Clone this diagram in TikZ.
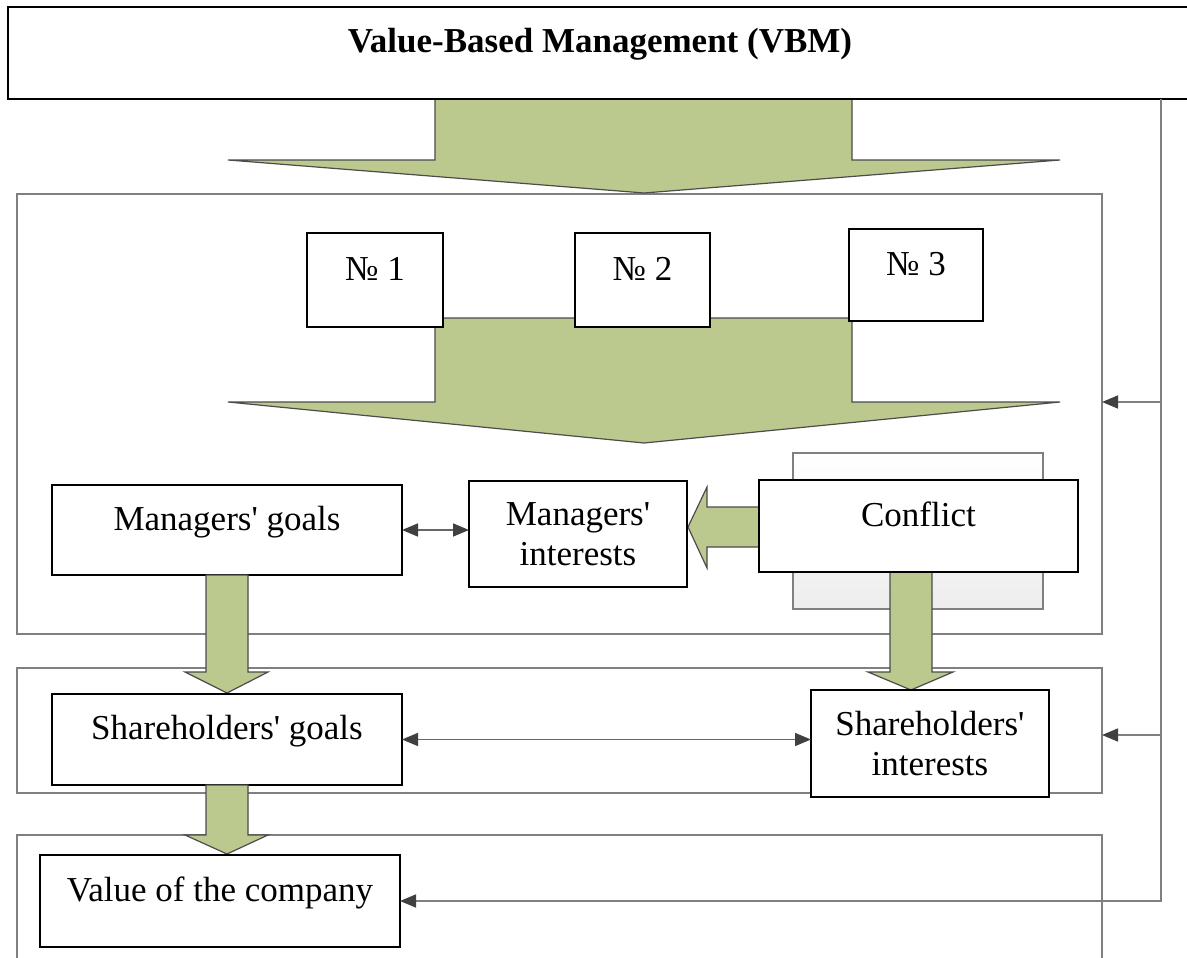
\documentclass[tikz,border=0pt]{standalone}
\usepackage{fontspec}
\setmainfont{Liberation Serif}
\usetikzlibrary{arrows.meta}

\definecolor{vbmgreen}{RGB}{187,201,143}
\definecolor{framegray}{RGB}{128,128,128}
\definecolor{tipgray}{RGB}{64,64,64}

\begin{document}
\begin{tikzpicture}[x=1pt, y=-1pt,
  every node/.style={inner sep=0pt, outer sep=0pt},
  box/.style={draw, line width=1.5pt, fill=white, font=\fontsize{35}{40}\selectfont},
  onebox/.style={box, text height=1ex, text depth=1ex},
  twobox/.style={box, align=center},
  frame/.style={draw=framegray, line width=1.8pt},
  bigarrow/.style={fill=vbmgreen, draw=black!70, line width=1.2pt},
  link/.style={draw=black!60, line width=1.6pt},
  tip/.tip={Triangle[length=16pt, width=13pt, color=tipgray]}]
\useasboundingbox (0,0) rectangle (1187,958);
\clip (0,0) rectangle (1187,958);

% frames
\node[frame, minimum width=1085pt, minimum height=440pt] (frame1) at (559.5,414) {};
\node[frame, minimum width=1085pt, minimum height=125pt] (frame2) at (559.5,730.5) {};
\node[frame, minimum width=1085pt, minimum height=165pt] (frame3) at (559.5,917.5) {};

% top
\draw[bigarrow] (435,99) -- (852,99) -- (852,160) -- (1060,160) -- (644,193) -- (228,160) -- (435,160) -- cycle;
\node[box, minimum width=1184pt, minimum height=92pt, text height=1ex, text depth=1ex,
  font=\fontsize{35}{40}\selectfont\bfseries] (vbm) at (600,53) {Value-Based Management (VBM)};

\draw[bigarrow] (435,318) -- (852,318) -- (852,402) -- (1060,402) -- (644,443) -- (228,402) -- (435,402) -- cycle;
\node[onebox, minimum width=136pt, minimum height=94pt] (no1) at (375,280) {№ 1};
\node[onebox, minimum width=135pt, minimum height=94pt] (no2) at (642.5,280) {№ 2};
\node[onebox, minimum width=134pt, minimum height=92pt] (no3) at (916,275) {№ 3};

% conflict
\node[draw=framegray, line width=1.5pt, top color=white, bottom color=black!7,
  minimum width=250pt, minimum height=156pt] (conflictbg) at (918,531) {};
\draw[bigarrow] (890,540) -- (890,672) -- (868,672) -- (911,690) -- (953,672) -- (932,672) -- (932,540) -- cycle;
\draw[bigarrow] (780,507) -- (707,507) -- (707,487) -- (688,527) -- (707,568) -- (707,547) -- (780,547) -- cycle;
\node[onebox, minimum width=319pt, minimum height=92pt] (conflict) at (918.5,526) {Conflict};

\node[onebox, minimum width=350pt, minimum height=90pt] (mgoals) at (227,530) {Managers\textquotesingle{} goals};
\node[twobox, minimum width=218pt, minimum height=106pt] (minter) at (578,534) {Managers\textquotesingle\\interests};

% goals
\draw[bigarrow] (206,575) -- (206,672) -- (185,672) -- (227,693) -- (268,672) -- (248,672) -- (248,575) -- cycle;
\node[onebox, minimum width=350pt, minimum height=91pt] (sgoals) at (227,739.5) {Shareholders\textquotesingle{} goals};
\node[twobox, minimum width=238pt, minimum height=107pt] (sinter) at (930,743.5) {Shareholders\textquotesingle\\interests};

\draw[bigarrow] (206,785) -- (206,835) -- (185,835) -- (227,854) -- (268,835) -- (248,835) -- (248,785) -- cycle;
\node[onebox, minimum width=360pt, minimum height=92pt] (value) at (220,901) {Value of the company};

% links
\draw[link, tip-tip] (mgoals.east) -- (mgoals.east -| minter.west);
\draw[link, tip-tip] (sgoals.east) -- (sgoals.east -| sinter.west);

% feedback
\coordinate (fbtop) at (1161,99);
\coordinate (fb1) at (1161,402);
\coordinate (fb2) at (1161,735);
\draw[link, draw=framegray, -tip] (fbtop) -- (fbtop |- value.east) -- (value.east);
\draw[link, draw=framegray, -tip] (fb1) -- (fb1 -| frame1.east);
\draw[link, draw=framegray, -tip] (fb2) -- (fb2 -| frame2.east);
\end{tikzpicture}
\end{document}
